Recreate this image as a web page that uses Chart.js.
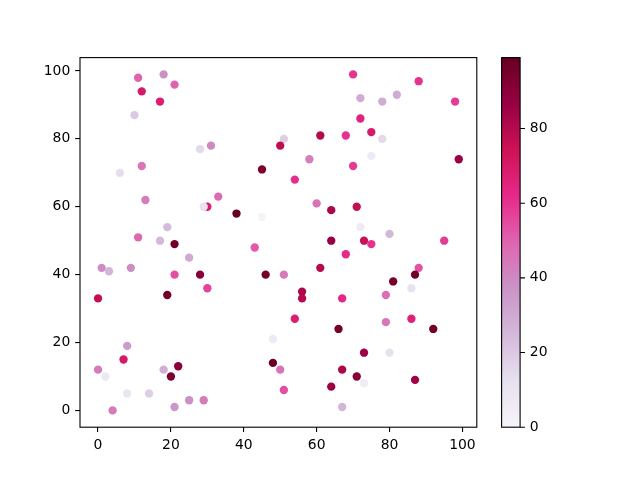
<!DOCTYPE html>
<html>
<head>
<meta charset="utf-8">
<script src="https://cdn.jsdelivr.net/npm/chart.js@4.4.0/dist/chart.umd.min.js"></script>
<style>
  body { margin: 0; background: #fff; }
  canvas { display: block; }
</style>
</head>
<body>
<canvas id="myChart" width="640" height="480"></canvas>
<script>
// scatter data (x, y, colour value)
var xValues = [11, 18, 21, 12, 17, 10, 28, 31, 6, 12, 13, 30, 29, 33, 38, 19, 11, 17, 21, 25,
  43, 1, 3, 9, 21, 28, 30, 0, 19, 8, 7, 0, 2, 18, 22, 20, 8, 14, 4, 21,
  25, 29, 70, 88, 72, 78, 82, 98, 72, 51, 50, 61, 68, 75, 78, 75, 58, 45, 54, 70,
  99, 60, 64, 71, 45, 72, 80, 64, 73, 75, 95, 68, 46, 51, 61, 88, 87, 81, 86, 56,
  56, 67, 79, 54, 79, 86, 66, 92, 48, 73, 80, 48, 50, 67, 71, 73, 87, 64, 51, 67];
var yValues = [98, 99, 96, 94, 91, 87, 77, 78, 70, 72, 62, 60, 60, 63, 58, 54, 51, 50, 49, 45,
  48, 42, 41, 42, 40, 40, 36, 33, 34, 19, 15, 12, 10, 12, 13, 10, 5, 5, 0, 1,
  3, 3, 99, 97, 92, 91, 93, 91, 86, 80, 78, 81, 81, 82, 80, 75, 74, 71, 68, 72,
  74, 61, 59, 60, 57, 54, 52, 50, 50, 49, 50, 46, 40, 40, 42, 42, 40, 38, 36, 35,
  33, 33, 34, 27, 26, 27, 24, 24, 21, 17, 17, 14, 12, 12, 10, 8, 9, 7, 6, 1];
var cValues = [50, 38, 50, 70, 68, 20, 15, 40, 14, 45, 43, 68, 12, 48, 99, 24, 49, 25, 96, 30,
  52, 39, 26, 39, 54, 90, 56, 76, 96, 34, 70, 44, 8, 28, 90, 93, 10, 18, 44, 36,
  38, 44, 60, 60, 29, 29, 29, 58, 65, 18, 78, 80, 60, 70, 15, 6, 42, 93, 61, 58,
  86, 46, 82, 77, 0, 6, 25, 87, 75, 60, 58, 62, 96, 44, 80, 53, 96, 95, 12, 82,
  80, 63, 47, 68, 45, 66, 95, 96, 8, 85, 12, 97, 46, 82, 91, 5, 85, 86, 54, 26];

var axisTicks = [0, 20, 40, 60, 80, 100];
var colorbarTicks = [0, 20, 40, 60, 80];

// PuRd colormap
var purd = ["#f7f4f9", "#e7e1ef", "#d4b9da", "#c994c7", "#df65b0",
  "#e7298a", "#ce1256", "#980043", "#67001f"];

function hexToRgb(h) {
  return [parseInt(h.substr(1, 2), 16), parseInt(h.substr(3, 2), 16), parseInt(h.substr(5, 2), 16)];
}

function cmap(t) {
  t = Math.max(0, Math.min(1, t));
  var pos = t * (purd.length - 1);
  var i = Math.min(Math.floor(pos), purd.length - 2);
  var f = pos - i;
  var a = hexToRgb(purd[i]);
  var b = hexToRgb(purd[i + 1]);
  var r = Math.round(a[0] + (b[0] - a[0]) * f);
  var g = Math.round(a[1] + (b[1] - a[1]) * f);
  var bl = Math.round(a[2] + (b[2] - a[2]) * f);
  return "rgb(" + r + "," + g + "," + bl + ")";
}

var cMin = Math.min.apply(null, cValues);
var cMax = Math.max.apply(null, cValues);

var points = [];
var colors = [];
for (var i = 0; i < xValues.length; i++) {
  points.push({ x: xValues[i], y: yValues[i] });
  colors.push(cmap((cValues[i] - cMin) / (cMax - cMin)));
}

// matplotlib style 5% margins
function margins(arr) {
  var lo = Math.min.apply(null, arr);
  var hi = Math.max.apply(null, arr);
  var m = (hi - lo) * 0.05;
  return [lo - m, hi + m];
}
var xr = margins(xValues);
var yr = margins(yValues);

var tickLen = 4.86;
var font = { family: "DejaVu Sans", size: 13.9 };

function setTicks(list) {
  return function (scale) {
    scale.ticks = list.map(function (v) { return { value: v }; });
  };
}

// frame + colorbar (bar, ticks, labels)
var framePlugin = {
  id: "frame",
  afterDraw: function (chart) {
    var ctx = chart.ctx;
    var a = chart.chartArea;
    ctx.save();
    ctx.strokeStyle = "#000";
    ctx.lineWidth = 1.1;
    ctx.strokeRect(a.left, a.top, a.right - a.left, a.bottom - a.top);

    var cb = chart.scales.cb;
    var x0 = 501.6, x1 = 520.1;
    var grad = ctx.createLinearGradient(0, a.bottom, 0, a.top);
    for (var k = 0; k < purd.length; k++) {
      grad.addColorStop(k / (purd.length - 1), purd[k]);
    }
    ctx.fillStyle = grad;
    ctx.fillRect(x0, a.top, x1 - x0, a.bottom - a.top);
    ctx.strokeRect(x0, a.top, x1 - x0, a.bottom - a.top);
    ctx.beginPath();
    colorbarTicks.forEach(function (v) {
      var y = cb.getPixelForValue(v);
      ctx.moveTo(x1, y);
      ctx.lineTo(x1 + tickLen, y);
    });
    ctx.stroke();

    ctx.fillStyle = "#000";
    ctx.font = font.size + "px '" + font.family + "'";
    ctx.textAlign = "left";
    ctx.textBaseline = "middle";
    colorbarTicks.forEach(function (v) {
      ctx.fillText(String(v), x1 + 2 * tickLen, cb.getPixelForValue(v));
    });
    ctx.restore();
  }
};

Chart.defaults.color = "#000";

var ctx = document.getElementById("myChart").getContext("2d");
var myChart = new Chart(ctx, {
  type: "scatter",
  data: {
    datasets: [
      {
        data: points,
        backgroundColor: colors,
        borderWidth: 0,
        pointRadius: 4.17,
        pointHoverRadius: 4.17,
      },
    ],
  },
  options: {
    responsive: false,
    animation: false,
    events: [],
    layout: { padding: { top: 57.6, left: 0, right: 0, bottom: 0 } },
    plugins: { legend: { display: false }, tooltip: { enabled: false } },
    scales: {
      x: {
        type: "linear",
        min: xr[0],
        max: xr[1],
        afterBuildTicks: setTicks(axisTicks),
        afterFit: function (s) { s.height = 480 - 427.2; },
        border: { display: false },
        grid: { drawOnChartArea: false, tickLength: tickLen, tickColor: "#000", lineWidth: 1.1 },
        ticks: { font: font, padding: 4.86, maxRotation: 0 },
      },
      y: {
        type: "linear",
        min: yr[0],
        max: yr[1],
        afterBuildTicks: setTicks(axisTicks),
        afterFit: function (s) { s.width = 80; },
        border: { display: false },
        grid: { drawOnChartArea: false, tickLength: tickLen, tickColor: "#000", lineWidth: 1.1 },
        ticks: { font: font, padding: 4.86 },
      },
      cb: {
        type: "linear",
        position: "right",
        min: cMin,
        max: cMax,
        afterBuildTicks: setTicks(colorbarTicks),
        afterFit: function (s) { s.width = 640 - 476.8; },
        border: { display: false },
        grid: { display: false, drawTicks: false },
        ticks: { display: false, padding: 0 },
      },
    },
  },
  plugins: [framePlugin],
});
</script>
</body>
</html>
